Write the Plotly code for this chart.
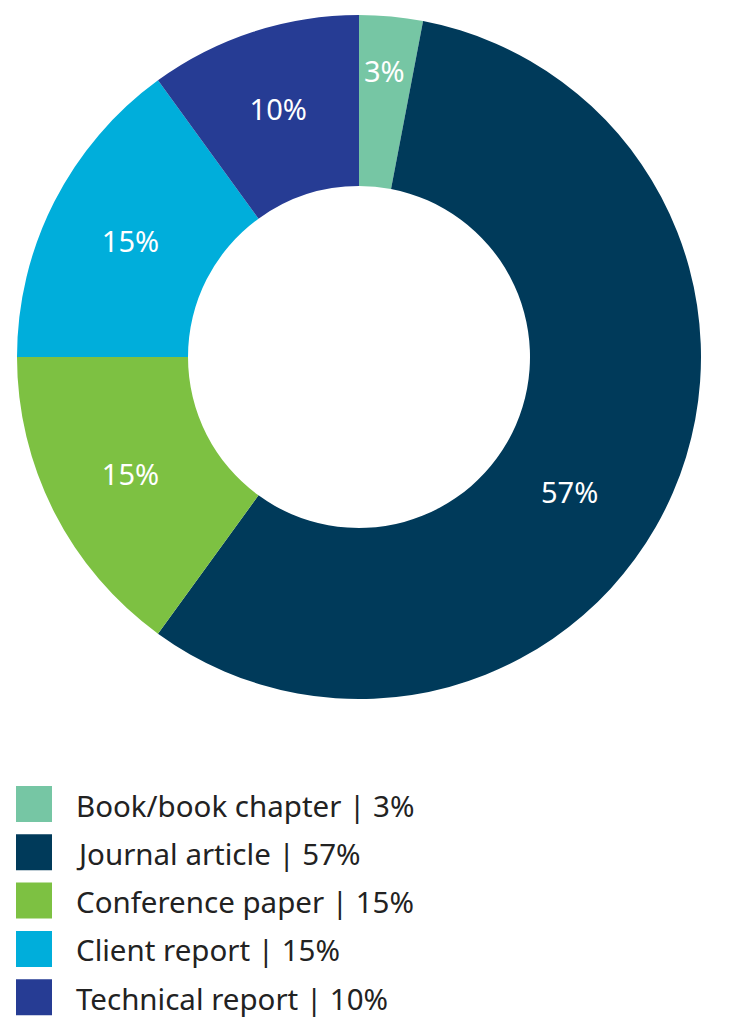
import math

import plotly.graph_objects as go

categories = ["Book/book chapter", "Journal article", "Conference paper", "Client report", "Technical report"]
shares = [3, 57, 15, 15, 10]
colors = ["#76C6A4", "#003A5A", "#7DC142", "#00AEDB", "#263C94"]

# the page body has an 8px margin, so the figure is 16px smaller and
# every reference pixel position is shifted by 8
OFF = 8
W, H = 745 - 2 * OFF, 1030 - 2 * OFF
FONT = "Noto Sans"

# donut geometry in page pixels
CX, CY, R = 359, 357, 342

# slices whose label sits away from plotly's default spot:
# index -> (radius as fraction of R, angle shift in degrees)
LABEL_MOVE = {0: (0.84, -0.4), 1: (0.73, 9.3)}


def px(x):
    return (x - OFF) / W


def py(y):
    return 1 - (y - OFF) / H


slice_text = ["" if i in LABEL_MOVE else f"{v}%" for i, v in enumerate(shares)]

fig = go.Figure(
    go.Pie(
        labels=categories,
        values=shares,
        sort=False,
        direction="clockwise",
        rotation=0,
        hole=0.5,
        marker=dict(colors=colors, line=dict(width=0)),
        text=slice_text,
        textinfo="text",
        textposition="inside",
        insidetextorientation="horizontal",
        textfont=dict(family=FONT, size=29, color="white"),
        domain=dict(x=[px(CX - R), px(CX + R)], y=[py(CY + R), py(CY - R)]),
        showlegend=False,
        hoverinfo="label+percent",
    )
)

shapes, annotations = [], []

# labels placed by hand along the slice's own angle
total = sum(shares)
cum = 0
for i, v in enumerate(shares):
    mid = (cum + v / 2) / total * 360
    cum += v
    if i not in LABEL_MOVE:
        continue
    frac, shift = LABEL_MOVE[i]
    a = math.radians(mid + shift)
    lx = CX + frac * R * math.sin(a)
    ly = CY - frac * R * math.cos(a)
    annotations.append(
        dict(x=px(lx), y=py(ly), xref="paper", yref="paper",
             xanchor="center", yanchor="middle", showarrow=False,
             text=f"{v}%", font=dict(family=FONT, size=29, color="white"))
    )

# hand-built legend: big squares plus "name | share%" text
y0 = 804
for i, (name, val, col) in enumerate(zip(categories, shares, colors)):
    yc = y0 + i * 48.3
    shapes.append(
        dict(type="rect", xref="paper", yref="paper",
             x0=px(16), x1=px(52), y0=py(yc + 18), y1=py(yc - 18),
             fillcolor=col, line=dict(width=0))
    )
    annotations.append(
        dict(x=px(74), y=py(yc + 1), xref="paper", yref="paper",
             xanchor="left", yanchor="middle", showarrow=False,
             text=f"{name} | {val}%", font=dict(family=FONT, size=29.5, color="#222222"))
    )

fig.update_layout(
    width=W,
    height=H,
    margin=dict(l=0, r=0, t=0, b=0),
    paper_bgcolor="white",
    plot_bgcolor="white",
    shapes=shapes,
    annotations=annotations,
)

fig.write_html("out.html")
